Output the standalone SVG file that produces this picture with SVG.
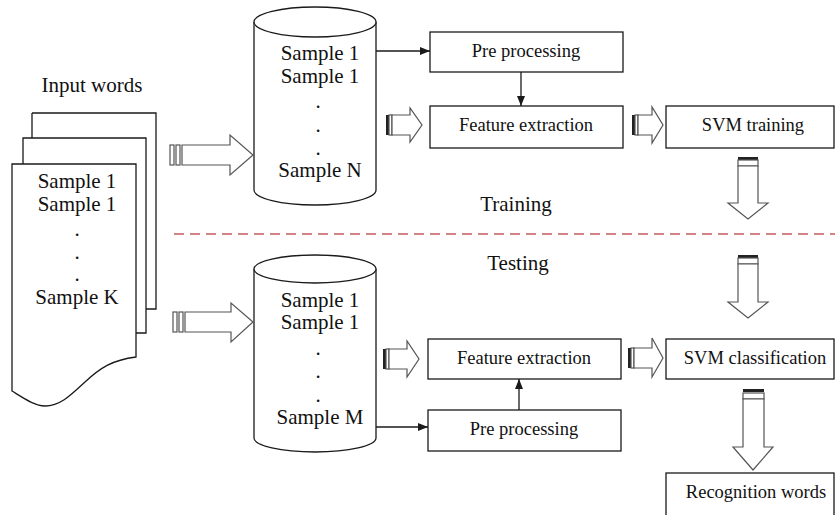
<svg xmlns="http://www.w3.org/2000/svg" width="835" height="515" viewBox="0 0 835 515">
<style>
.ln{fill:none;stroke:#1a1a1a;stroke-width:1.3}
.pg{fill:#fff;stroke:#1a1a1a;stroke-width:1.3}
.bx{fill:#fff;stroke:#1a1a1a;stroke-width:1.3}
.ba{fill:#fff;stroke:#555;stroke-width:1.2}
.bk{fill:#222}
.t{font-family:"Liberation Serif","Times New Roman",serif;fill:#111;text-anchor:middle}
.big{font-size:21px}
.sm{font-size:18.5px}
.dash{stroke:#c85a5a;stroke-width:1.6;stroke-dasharray:10 6;fill:none}
</style>
<defs>
<marker id="ah" markerWidth="10" markerHeight="8" refX="10" refY="4" orient="auto" markerUnits="userSpaceOnUse">
<path d="M0,0 L10,4 L0,8 Z" fill="#1a1a1a"/>
</marker>
</defs>

<g id="input-words">
<text class="t big" x="92" y="92">Input words</text>
<path class="pg" d="M32,113 H156 V309 H146"/>
<path class="pg" d="M23,164 V138 H146 V333 H136"/>
<path class="pg" d="M12,164 H136 V357 C112,360 100,368 85,382 C70,396 60,406 45,406 C35,406 25,399 12,391 Z"/>
<path class="pg" d="M32,138 V113"/>
<text class="t big" x="77" y="188">Sample 1</text>
<text class="t big" x="77" y="211">Sample 1</text>
<text class="t big" x="77" y="236">.</text>
<text class="t big" x="77" y="259">.</text>
<text class="t big" x="77" y="281">.</text>
<text class="t big" x="77" y="304">Sample K</text>
</g>

<g id="train-db">
<path class="pg" d="M254,22 V190 A61,15 0 0 0 376,190 V22"/>
<ellipse class="pg" cx="315" cy="22" rx="61" ry="15"/>
<text class="t big" x="320" y="60">Sample 1</text>
<text class="t big" x="320" y="83">Sample 1</text>
<text class="t big" x="318" y="108">.</text>
<text class="t big" x="318" y="132">.</text>
<text class="t big" x="318" y="155">.</text>
<text class="t big" x="320" y="177">Sample N</text>
</g>

<g id="test-db">
<path class="pg" d="M254,269 V438 A61,14 0 0 0 376,438 V269"/>
<ellipse class="pg" cx="315" cy="269" rx="61" ry="14"/>
<text class="t big" x="320" y="307">Sample 1</text>
<text class="t big" x="320" y="329">Sample 1</text>
<text class="t big" x="318" y="355">.</text>
<text class="t big" x="318" y="378">.</text>
<text class="t big" x="318" y="402">.</text>
<text class="t big" x="320" y="424">Sample M</text>
</g>

<g id="train-pre">
<rect class="bx" x="430" y="32" width="193" height="40"/>
<text class="t sm" x="526" y="57">Pre processing</text>
</g>
<g id="train-feat">
<rect class="bx" x="430" y="106" width="193" height="42"/>
<text class="t sm" x="526" y="131">Feature extraction</text>
</g>
<g id="svm-train">
<rect class="bx" x="666" y="106" width="168" height="42"/>
<text class="t sm" x="753" y="131">SVM training</text>
</g>
<g id="test-feat">
<rect class="bx" x="428" y="339" width="193" height="40"/>
<text class="t sm" x="524" y="364">Feature extraction</text>
</g>
<g id="test-pre">
<rect class="bx" x="428" y="410" width="193" height="41"/>
<text class="t sm" x="524" y="435">Pre processing</text>
</g>
<g id="svm-class">
<rect class="bx" x="666" y="339" width="168" height="40"/>
<text class="t sm" x="755" y="364">SVM classification</text>
</g>
<g id="recog">
<rect class="bx" x="666" y="473" width="168" height="45"/>
<text class="t sm" x="756" y="498">Recognition words</text>
</g>

<g id="labels">
<text class="t big" x="516" y="211">Training</text>
<text class="t big" x="518" y="270">Testing</text>
<path class="dash" d="M174,234 H835"/>
</g>

<g id="connectors">
<path class="ln" d="M376,51 H430" marker-end="url(#ah)"/>
<path class="ln" d="M521,72 V106" marker-end="url(#ah)"/>
<path class="ln" d="M376,427 H428" marker-end="url(#ah)"/>
<path class="ln" d="M519,410 V379" marker-end="url(#ah)"/>

<rect class="ba" x="170" y="145" width="4" height="20"/>
<rect class="ba" x="176" y="145" width="4" height="20"/>
<path class="ba" d="M182,145 H230 V135 L253,155 L230,175 V165 H182 Z"/>
<rect class="ba" x="173" y="312" width="4" height="20"/>
<rect class="ba" x="179" y="312" width="4" height="20"/>
<path class="ba" d="M185,312 H231 V303 L253,322 L231,342 V332 H185 Z"/>

<rect class="bk" x="386" y="115" width="3" height="20"/>
<rect class="ba" x="389" y="115" width="3" height="20"/>
<path class="ba" d="M392,115 H410 V108 L422,125 L410,142 V135 H392 Z"/>

<rect class="bk" x="632" y="115" width="3" height="20"/>
<rect class="ba" x="635" y="115" width="3" height="20"/>
<path class="ba" d="M638,115 H652 V107 L663,125 L652,143 V135 H638 Z"/>

<rect class="bk" x="383" y="349" width="3" height="20"/>
<rect class="ba" x="386" y="349" width="3" height="20"/>
<path class="ba" d="M389,349 H407 V341 L419,359 L407,377 V369 H389 Z"/>

<rect class="bk" x="628" y="348" width="3" height="20"/>
<rect class="ba" x="631" y="348" width="3" height="20"/>
<path class="ba" d="M634,348 H652 V338 L663,358 L652,377 V368 H634 Z"/>

<rect class="bk" x="738" y="157" width="20" height="3"/>
<rect class="ba" x="738" y="160" width="20" height="6"/>
<path class="ba" d="M738,166 V203 H728 L748,219 L768,203 H758 V166 Z"/>

<rect class="bk" x="738" y="255" width="20" height="3"/>
<rect class="ba" x="738" y="258" width="20" height="6"/>
<path class="ba" d="M738,264 V302 H728 L748,318 L768,302 H758 V264 Z"/>

<rect class="bk" x="743" y="389" width="21" height="3"/>
<rect class="ba" x="743" y="393" width="21" height="6"/>
<path class="ba" d="M743,399 V447 H733 L753,470 L773,447 H764 V399 Z"/>
</g>
</svg>
